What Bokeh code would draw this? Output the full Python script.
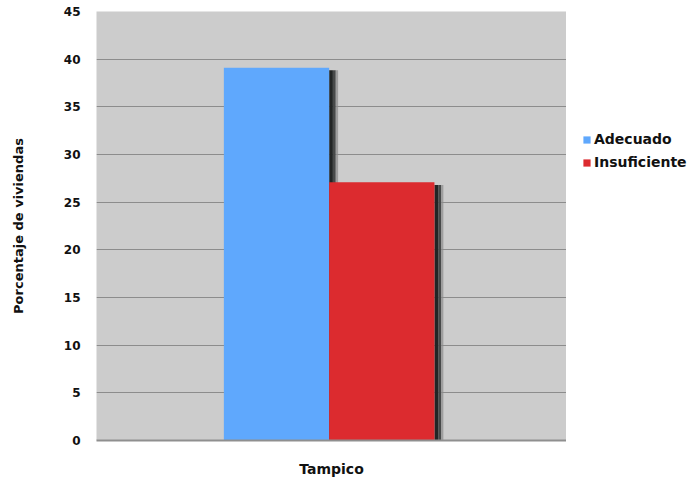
from bokeh.plotting import figure
from bokeh.layouts import row
from bokeh.models import (ColumnDataSource, FactorRange, Range1d, Legend,
                          LegendItem, FixedTicker)
from bokeh.transform import dodge
from bokeh.embed import file_html
from bokeh.resources import INLINE

# ---- data ----
categories = ["Tampico"]
series = ["Adecuado", "Insuficiente"]
adecuado = [39.1]
insuficiente = [27.1]
y_ticks = [0, 5, 10, 15, 20, 25, 30, 35, 40, 45]

FONT = "DejaVu Sans"
BLUE = "#5fa8fd"
RED = "#dc2b2f"

src = ColumnDataSource(dict(
    cat=categories,
    adecuado=adecuado,
    insuficiente=insuficiente,
    adecuado_sh=[v - 0.25 for v in adecuado],
    insuficiente_sh=[v - 0.3 for v in insuficiente],
))

p = figure(width=566, height=479,
           x_range=FactorRange(*categories, range_padding=0),
           y_range=Range1d(0, 45),
           output_backend="svg", toolbar_location=None,
           min_border_left=96, min_border_right=0,
           min_border_top=11, min_border_bottom=36)

p.background_fill_color = "#cccccc"
p.border_fill_color = "white"
p.outline_line_color = None

bw = 0.224
c_blue = -0.117
c_red = 0.107

# shadows (drawn first)
for col, edge in (("adecuado_sh", c_blue + bw / 2), ("insuficiente_sh", c_red + bw / 2)):
    p.vbar(x=dodge("cat", edge + 0.004, range=p.x_range), top=col, width=0.008,
           source=src, fill_color="#222525", line_color=None)
    p.vbar(x=dodge("cat", edge + 0.011, range=p.x_range), top=col, width=0.006,
           source=src, fill_color="#474949", line_color=None)
    p.vbar(x=dodge("cat", edge + 0.0165, range=p.x_range), top=col, width=0.005,
           source=src, fill_color="#8a8a8a", line_color=None, fill_alpha=0.7)

rb = p.vbar(x=dodge("cat", c_blue, range=p.x_range), top="adecuado", width=bw,
            source=src, fill_color=BLUE, line_color=None)
rr = p.vbar(x=dodge("cat", c_red, range=p.x_range), top="insuficiente", width=bw,
            source=src, fill_color=RED, line_color=None)

# grid
p.xgrid.grid_line_color = None
p.ygrid.grid_line_color = "#8c8c8c"
p.ygrid.grid_line_width = 1
p.yaxis.ticker = FixedTicker(ticks=y_ticks)

# y axis
p.yaxis.axis_label = "Porcentaje de viviendas"
p.yaxis.axis_label_text_font = FONT
p.yaxis.axis_label_text_font_style = "bold"
p.yaxis.axis_label_text_font_size = "13px"
p.yaxis.axis_label_text_color = "#111111"
p.yaxis.axis_label_standoff = 35
p.yaxis.axis_line_color = None
p.yaxis.major_tick_line_color = None
p.yaxis.minor_tick_line_color = None
p.yaxis.major_label_standoff = 10
p.yaxis.major_label_text_font = FONT
p.yaxis.major_label_text_font_style = "bold"
p.yaxis.major_label_text_font_size = "12px"
p.yaxis.major_label_text_color = "#111111"

# x axis
p.xaxis.axis_line_color = "#8f8f8f"
p.xaxis.axis_line_width = 2
p.xaxis.major_tick_line_color = None
p.xaxis.minor_tick_line_color = None
p.xaxis.major_label_standoff = 14
p.xaxis.major_label_text_font = FONT
p.xaxis.major_label_text_font_style = "bold"
p.xaxis.major_label_text_font_size = "14px"
p.xaxis.major_label_text_color = "#111111"

# ---- legend panel (separate figure to the right of the plot) ----
pl = figure(width=128, height=479,
            x_range=FactorRange(*categories, range_padding=0),
            y_range=Range1d(60, 100),
            output_backend="svg", toolbar_location=None,
            min_border=0)
pl.axis.visible = False
pl.grid.visible = False
pl.outline_line_color = None
pl.background_fill_color = "white"
# proxy renderers (placed outside the visible area) that provide the legend swatches
lb = pl.vbar(x=dodge("cat", 3.0, range=pl.x_range), top="adecuado", width=0.5,
             source=src, fill_color=BLUE, line_color=None)
lr = pl.vbar(x=dodge("cat", 3.0, range=pl.x_range), top="insuficiente", width=0.5,
             source=src, fill_color=RED, line_color=None)

legend = Legend(items=[LegendItem(label=series[0], renderers=[lb]),
                       LegendItem(label=series[1], renderers=[lr])],
                location=(16, 268))
legend.padding = 0
legend.margin = 0
legend.spacing = 3
legend.glyph_width = 9
legend.glyph_height = 9
legend.label_standoff = 3
legend.label_height = 20
legend.label_text_font = FONT
legend.label_text_font_style = "bold"
legend.label_text_font_size = "14px"
legend.label_text_color = "#111111"
legend.border_line_color = None
legend.background_fill_alpha = 0
pl.add_layout(legend, "center")

layout = row(p, pl, spacing=0)
open("out.html", "w").write(file_html(layout, INLINE))
